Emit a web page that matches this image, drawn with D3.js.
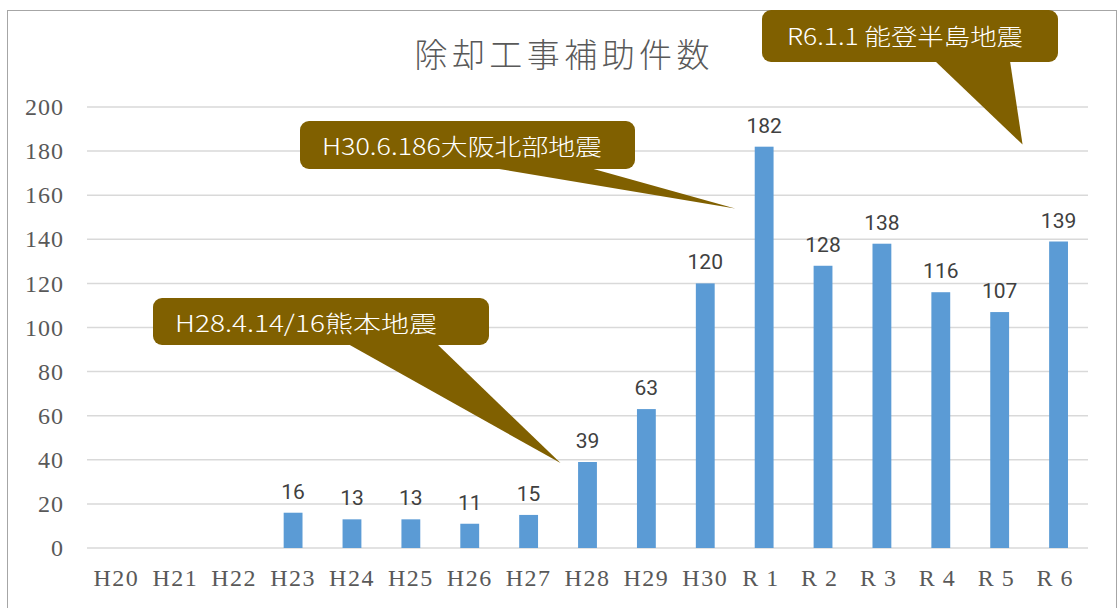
<!DOCTYPE html>
<html>
<head>
<meta charset="utf-8">
<script src="https://cdn.jsdelivr.net/npm/d3@7"></script>
<style>
  body { margin: 0; background: #fff; }
  svg { display: block; }
</style>
</head>
<body>
<svg id="chart" width="1118" height="608"></svg>
<script>
// 除却工事補助件数 bar chart

let categories = ["H20", "H21", "H22", "H23", "H24", "H25", "H26", "H27", "H28",
  "H29", "H30", "R1", "R2", "R3", "R4", "R5", "R6"];
let counts = [0, 0, 0, 16, 13, 13, 11, 15, 39, 63, 120, 182, 128, 138, 116, 107, 139];
let yTicks = [0, 20, 40, 60, 80, 100, 120, 140, 160, 180, 200];

// callouts: text, category the pointer aims at, value height of the tip
let noteTexts = ["H28.4.14/16熊本地震", "H30.6.186大阪北部地震", "R6.1.1 能登半島地震"];
let noteCats = ["H28", "R1", "R6"];
let noteValues = [38.5, 154, 183];

let drawChart = function() {
  let svg = d3.select("svg#chart");

  const margin = { top: 107, bottom: 60, left: 87, right: 30 };
  const plotWidth = 1088 - margin.left;
  const plotHeight = 548 - margin.top;

  // outer frame
  svg.append("rect")
    .attr("x", 7.5).attr("y", 10.5)
    .attr("width", 1109).attr("height", 610)
    .attr("fill", "none").attr("stroke", "#a6a6a6");

  let x = d3.scaleBand().domain(categories).range([0, plotWidth]).paddingInner(0.68).paddingOuter(0.34);
  let y = d3.scaleLinear().domain([0, 200]).range([plotHeight, 0]);

  const plot = svg.append("g").attr("transform", translate(margin.left, margin.top));

  // gridlines
  plot.append("g").selectAll("line").data(yTicks).join("line")
    .attr("x1", 0).attr("x2", plotWidth)
    .attr("y1", d => y(d)).attr("y2", d => y(d))
    .attr("stroke", "#d9d9d9").attr("stroke-width", 1.5);

  // y axis labels
  let yAxis = d3.axisLeft(y).tickValues(yTicks).tickSize(0).tickPadding(23);
  let yGroup = plot.append("g").call(yAxis);
  yGroup.select(".domain").remove();
  yGroup.selectAll("text")
    .attr("font-family", "'Liberation Serif', serif")
    .attr("font-size", 24).attr("fill", "#595959")
    .attr("letter-spacing", 1);

  // x axis labels
  let xAxis = d3.axisBottom(x).tickSize(0).tickPadding(21)
    .tickFormat(d => d);
  let xGroup = plot.append("g").attr("transform", translate(0, plotHeight)).call(xAxis);
  xGroup.select(".domain").remove();
  xGroup.selectAll("text")
    .attr("font-family", "'Liberation Serif', serif")
    .attr("font-size", 24).attr("fill", "#595959")
    .attr("letter-spacing", d => d[0] === "R" ? 8 : 1.5);

  // bars
  plot.append("g").selectAll("rect").data(categories).join("rect")
    .attr("x", d => x(d))
    .attr("y", (d, i) => y(counts[i]))
    .attr("width", x.bandwidth())
    .attr("height", (d, i) => plotHeight - y(counts[i]))
    .attr("fill", "#5b9bd5");

  // value labels
  plot.append("g").selectAll("text").data(categories.filter((d, i) => counts[i] > 0)).join("text")
    .attr("x", d => x(d) + x.bandwidth() / 2)
    .attr("y", d => y(counts[categories.indexOf(d)]) - 14)
    .attr("text-anchor", "middle")
    .attr("font-family", "'Liberation Sans Narrow', 'Roboto', sans-serif")
    .attr("font-size", 21).attr("fill", "#404040")
    .text(d => counts[categories.indexOf(d)]);

  // title
  svg.append("text")
    .attr("x", 562).attr("y", 67)
    .attr("text-anchor", "middle")
    .attr("font-family", "'Noto Sans CJK JP', sans-serif")
    .attr("font-weight", 300)
    .attr("font-size", 33).attr("fill", "#595959")
    .attr("textLength", 295).attr("lengthAdjust", "spacing")
    .text("除却工事補助件数");

  // callout layout (box, pointer base, tip offset from bar centre)
  const boxes = [
    { x: 153, y: 298, w: 336, h: 47, b0: 348, b1: 437, dx: -27, tx: 175, ty: 332, tw: 262 },
    { x: 300, y: 121, w: 335, h: 48, b0: 493, b1: 590, dx: -29, tx: 322, ty: 155, tw: 280 },
    { x: 762, y: 10, w: 296, h: 52, b0: 935, b1: 1010, dx: -36, tx: 787, ty: 45, tw: 236 }
  ];

  boxes.forEach(function(b, i) {
    let tipX = margin.left + x(noteCats[i]) + x.bandwidth() / 2 + b.dx;
    let tipY = margin.top + y(noteValues[i]);
    let g = svg.append("g");
    g.append("path")
      .attr("d", "M" + b.b0 + "," + (b.y + b.h - 1) + "L" + tipX + "," + tipY + "L" + b.b1 + "," + (b.y + b.h - 1) + "Z")
      .attr("fill", "#806000");
    g.append("rect")
      .attr("x", b.x).attr("y", b.y).attr("width", b.w).attr("height", b.h)
      .attr("rx", 9).attr("fill", "#806000");
    g.append("text")
      .attr("x", b.tx).attr("y", b.ty)
      .attr("font-family", "'Noto Sans CJK JP', sans-serif")
      .attr("font-weight", 300)
      .attr("font-size", 23).attr("fill", "#ffffff")
      .attr("textLength", b.tw).attr("lengthAdjust", "spacingAndGlyphs")
      .text(noteTexts[i]);
  });
};

drawChart();

function translate(x, y) {
  return "translate(" + String(x) + "," + String(y) + ")";
}
</script>
</body>
</html>
